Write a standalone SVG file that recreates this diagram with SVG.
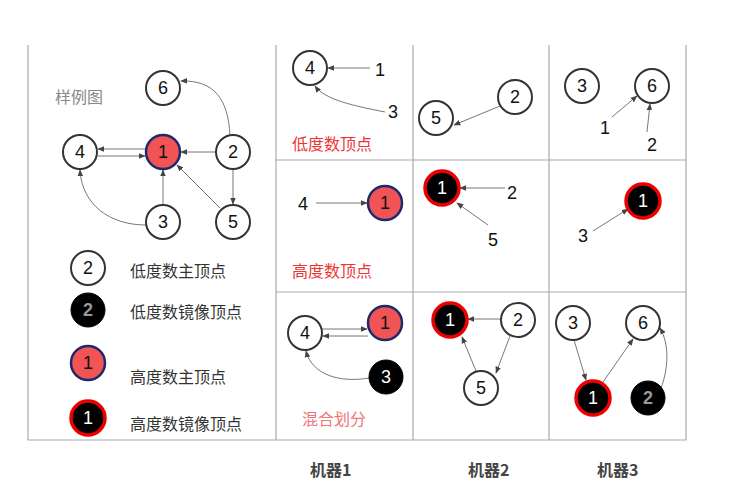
<svg xmlns="http://www.w3.org/2000/svg" width="734" height="497" viewBox="0 0 734 497">
<style>
.n{fill:#fff;stroke:#333;stroke-width:2}
.h{fill:#f05454;stroke:#1f2a6b;stroke-width:2.5}
.m{fill:#000;stroke:#e00;stroke-width:3.5}
.b{fill:#000;stroke:#000}
.t{font-family:"Liberation Sans",sans-serif;font-size:18px;text-anchor:middle;dominant-baseline:central;fill:#111}
.w{fill:#fff}.g{fill:#999;font-weight:bold}
.c{font-family:"Noto Sans CJK SC",sans-serif;font-size:16px;fill:#333}
.e{stroke:#777;stroke-width:1;fill:none;marker-end:url(#a)}
.grid{stroke:#aaa;stroke-width:1.2;fill:none}
</style>
<defs><marker id="a" viewBox="0 0 10 10" refX="9" refY="5" markerWidth="7" markerHeight="7" orient="auto"><path d="M0,1 L10,5 L0,9z" fill="#444"/></marker></defs>
<g id="grid" class="grid"><path d="M28,45V440H686V45M276,45V440M413,45V440M549,45V440M276,160H686M276,292H686"/></g>
<g id="connectors">
<path class="e" d="M146,149H98"/><path class="e" d="M98,156H145"/><path class="e" d="M216,152H181"/>
<path class="e" d="M163,205V170"/><path class="e" d="M220,208L177,165"/><path class="e" d="M233,169V204"/>
<path class="e" d="M230,135C228,100 215,80 181,81"/><path class="e" d="M146,225C110,225 82,205 80,170"/>
<path class="e" d="M370,68H328"/><path class="e" d="M385,112C355,106 325,100 315,86"/>
<path class="e" d="M500,106L454,125"/><path class="e" d="M612,117L637,96"/><path class="e" d="M647,132L650,104"/>
<path class="e" d="M316,203H367"/><path class="e" d="M505,188H460"/><path class="e" d="M488,225L457,203"/><path class="e" d="M593,231L628,209"/>
<path class="e" d="M322,329H367"/><path class="e" d="M368,336H323"/><path class="e" d="M369,378C340,383 312,375 306,351"/>
<path class="e" d="M500,319H468"/><path class="e" d="M510,336L496,373"/><path class="e" d="M476,371L462,337"/>
<path class="e" d="M574,340L586,380"/><path class="e" d="M603,382L633,339"/><path class="e" d="M661,388C668,370 670,345 660,328"/>
</g>
<text x="55" y="103" class="c" style="fill:#888">样例图</text>
<g id="n6"><circle class="n" cx="163" cy="88" r="17"/><text class="t" x="163" y="88">6</text></g>
<g id="n4"><circle class="n" cx="80" cy="152" r="17"/><text class="t" x="80" y="152">4</text></g>
<g id="n1"><circle class="h" cx="163" cy="152" r="17"/><text class="t" x="163" y="152">1</text></g>
<g id="n2"><circle class="n" cx="233" cy="152" r="17"/><text class="t" x="233" y="152">2</text></g>
<g id="n3"><circle class="n" cx="163" cy="222" r="17"/><text class="t" x="163" y="222">3</text></g>
<g id="n5"><circle class="n" cx="233" cy="222" r="17"/><text class="t" x="233" y="222">5</text></g>
<g id="k1"><circle class="n" cx="88" cy="268" r="17"/><text class="t" x="88" y="268">2</text><text class="c" x="130" y="277">低度数主顶点</text></g>
<g id="k2"><circle class="b" cx="88" cy="310" r="17"/><text class="t g" x="88" y="310">2</text><text class="c" x="130" y="318">低度数镜像顶点</text></g>
<g id="k3"><circle class="h" cx="88" cy="363" r="17"/><text class="t" x="88" y="363">1</text><text class="c" x="130" y="383">高度数主顶点</text></g>
<g id="k4"><circle class="m" cx="88" cy="418" r="17"/><text class="t w" x="88" y="418">1</text><text class="c" x="130" y="430">高度数镜像顶点</text></g>
<g id="c11"><circle class="n" cx="310" cy="68" r="17"/><text class="t" x="310" y="68">4</text><text class="t" x="380" y="70">1</text><text class="t" x="393" y="112">3</text><text class="c" x="292" y="150" style="fill:#e33">低度数顶点</text></g>
<g id="c12"><circle class="n" cx="436" cy="118" r="17"/><text class="t" x="436" y="118">5</text><circle class="n" cx="515" cy="97" r="17"/><text class="t" x="515" y="97">2</text></g>
<g id="c13"><circle class="n" cx="582" cy="86" r="17"/><text class="t" x="582" y="86">3</text><circle class="n" cx="652" cy="86" r="17"/><text class="t" x="652" y="86">6</text><text class="t" x="605" y="128">1</text><text class="t" x="652" y="145">2</text></g>
<g id="c21"><text class="t" x="303" y="204">4</text><circle class="h" cx="385" cy="203" r="17"/><text class="t" x="385" y="203">1</text><text class="c" x="292" y="277" style="fill:#e33">高度数顶点</text></g>
<g id="c22"><circle class="m" cx="442" cy="188" r="17"/><text class="t w" x="442" y="188">1</text><text class="t" x="512" y="193">2</text><text class="t" x="493" y="240">5</text></g>
<g id="c23"><circle class="m" cx="643" cy="201" r="17"/><text class="t w" x="643" y="201">1</text><text class="t" x="583" y="236">3</text></g>
<g id="c31"><circle class="n" cx="305" cy="333" r="17"/><text class="t" x="305" y="333">4</text><circle class="h" cx="385" cy="323" r="17"/><text class="t" x="385" y="323">1</text><circle class="b" cx="386" cy="377" r="17"/><text class="t w" x="386" y="377">3</text><text class="c" x="302" y="425" style="fill:#e77">混合划分</text></g>
<g id="c32"><circle class="m" cx="450" cy="320" r="17"/><text class="t w" x="450" y="320">1</text><circle class="n" cx="518" cy="320" r="17"/><text class="t" x="518" y="320">2</text><circle class="n" cx="481" cy="388" r="17"/><text class="t" x="481" y="388">5</text></g>
<g id="c33"><circle class="n" cx="573" cy="323" r="17"/><text class="t" x="573" y="323">3</text><circle class="n" cx="643" cy="323" r="17"/><text class="t" x="643" y="323">6</text><circle class="m" cx="593" cy="398" r="17"/><text class="t w" x="593" y="398">1</text><circle class="b" cx="648" cy="398" r="17"/><text class="t g" x="648" y="398">2</text></g>
<text class="c" x="310" y="476" style="font-weight:bold;fill:#444">机器1</text>
<text class="c" x="468" y="476" style="font-weight:bold;fill:#444">机器2</text>
<text class="c" x="597" y="476" style="font-weight:bold;fill:#444">机器3</text>
</svg>
